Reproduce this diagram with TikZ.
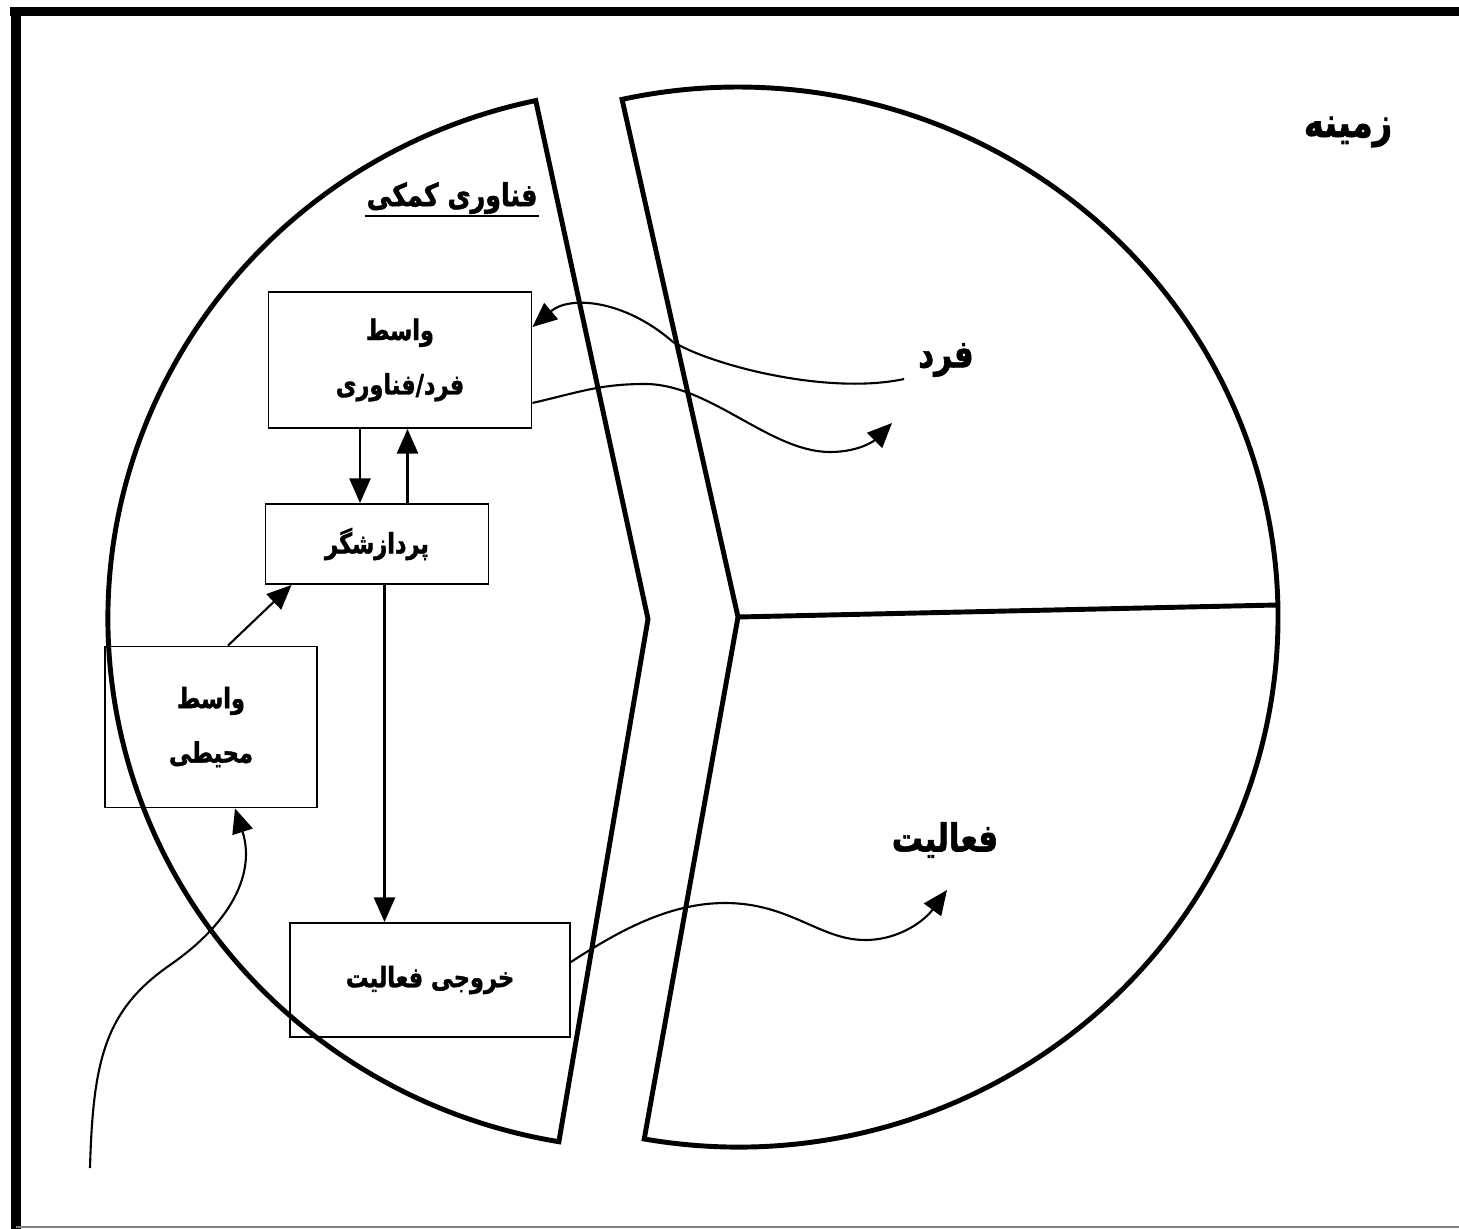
\documentclass[tikz,border=0pt]{standalone}
\usepackage{fontspec}
\usetikzlibrary{arrows.meta}
\newfontfamily\fa[Script=Arabic, FakeStretch=0.8, BoldFeatures={FakeBold=1.5}]{DejaVu Sans}
\TeXXeTstate=1

\begin{document}
\begin{tikzpicture}[x=0.02cm, y=0.02cm,
    box/.style = {draw, line width=1.1pt, align=center,
        font=\fa\bfseries\fontsize{16}{31}\selectfont},
    tag/.style = {font=\fa\bfseries\fontsize{22}{26}\selectfont},
    pie/.style = {line width=2.8pt, line join=miter},
    arr/.style = {line width=1.2pt, -{Triangle[length=14pt, width=12pt]}}]
      \useasboundingbox (0,0) rectangle (1459,-1229);
      \fill (10,-7) rectangle (1459,-16);
      \fill (11,-7) rectangle (21,-1229);
      \draw[gray, line width=0.8pt] (16,-1227) -- (1459,-1227);

      \coordinate (lc) at (648,-619);
      \coordinate (rc) at (738,-617);
      \draw[pie] (lc) -- ++(102:540 and 530) arc[start angle=102, end angle=260.5,
          x radius=540, y radius=530] -- cycle;
      \draw[pie] (rc) -- ++(260:540 and 530) arc[start angle=260, end angle=462.4,
          x radius=540, y radius=530] -- cycle;
      \draw[pie] (rc) -- ++(1.3:540 and 530);

      \node (ctx) [tag, font=\fa\bfseries\fontsize{24}{28}\selectfont] at (1348,-132) {\beginR زمینه\endR};
      \node (user) [tag] at (946,-360) {\beginR فرد\endR};
      \node (act) [tag] at (945,-840) {\beginR فعالیت\endR};
      \node (aux) [tag, inner sep=1pt, font=\fa\bfseries\fontsize{18}{20}\selectfont]
          at (452,-198) {\beginR فناوری کمکی\endR};
      \draw[line width=1.3pt] (aux.south west) -- (aux.south east);

      \node (uiface) [box, minimum width=5.26cm, minimum height=2.72cm] at (400,-360)
          {\beginR واسط\endR\\\beginR فرد/فناوری\endR};
      \node (proc) [box, minimum width=4.46cm, minimum height=1.6cm] at (377,-544)
          {\beginR پردازشگر\endR};
      \node (eiface) [box, minimum width=4.24cm, minimum height=3.22cm] at (211,-727)
          {\beginR واسط\endR\\\beginR محیطی\endR};
      \node (actout) [box, minimum width=5.6cm, minimum height=2.28cm] at (430,-980)
          {\beginR خروجی فعالیت\endR};

      \draw[arr] ([xshift=-0.8cm]uiface.south) -- ([xshift=-0.8cm]uiface.south |- proc.north);
      \draw[arr] ([xshift=0.15cm]uiface.south |- proc.north) -- ([xshift=0.15cm]uiface.south);
      \draw[arr] ([xshift=0.15cm]proc.south) -- ([xshift=0.15cm]proc.south |- actout.north);
      \draw[arr] ([xshift=0.34cm]eiface.north) -- ([xshift=-1.71cm]proc.south);

      \coordinate (userin) at (892,-423);
      \coordinate (actin) at (947,-890);
      \coordinate (envin) at (90,-1168);
      \draw[arr] ([shift={(-8,-19)}]user.west) .. controls (830,-395) and (716,-367) .. (673,-342)
          .. controls (625,-300) and (570,-295) .. ([yshift=0.66cm]uiface.east);
      \draw[arr] ([yshift=-0.86cm]uiface.east) .. controls (580,-392) and (600,-384) .. (645,-384)
          .. controls (710,-384) and (770,-452) .. (830,-452)
          .. controls (860,-452) and (875,-440) .. (userin);
      \draw[arr] ([yshift=0.36cm]actout.east) .. controls (620,-930) and (670,-903) .. (725,-903)
          .. controls (790,-903) and (820,-940) .. (865,-940)
          .. controls (900,-940) and (925,-920) .. (actin);
      \draw[arr] (envin) .. controls (93,-1060) and (105,-1010) .. (170,-965)
          .. controls (235,-920) and (255,-870) .. ([xshift=0.48cm]eiface.south);
    \end{tikzpicture}
\end{document}
